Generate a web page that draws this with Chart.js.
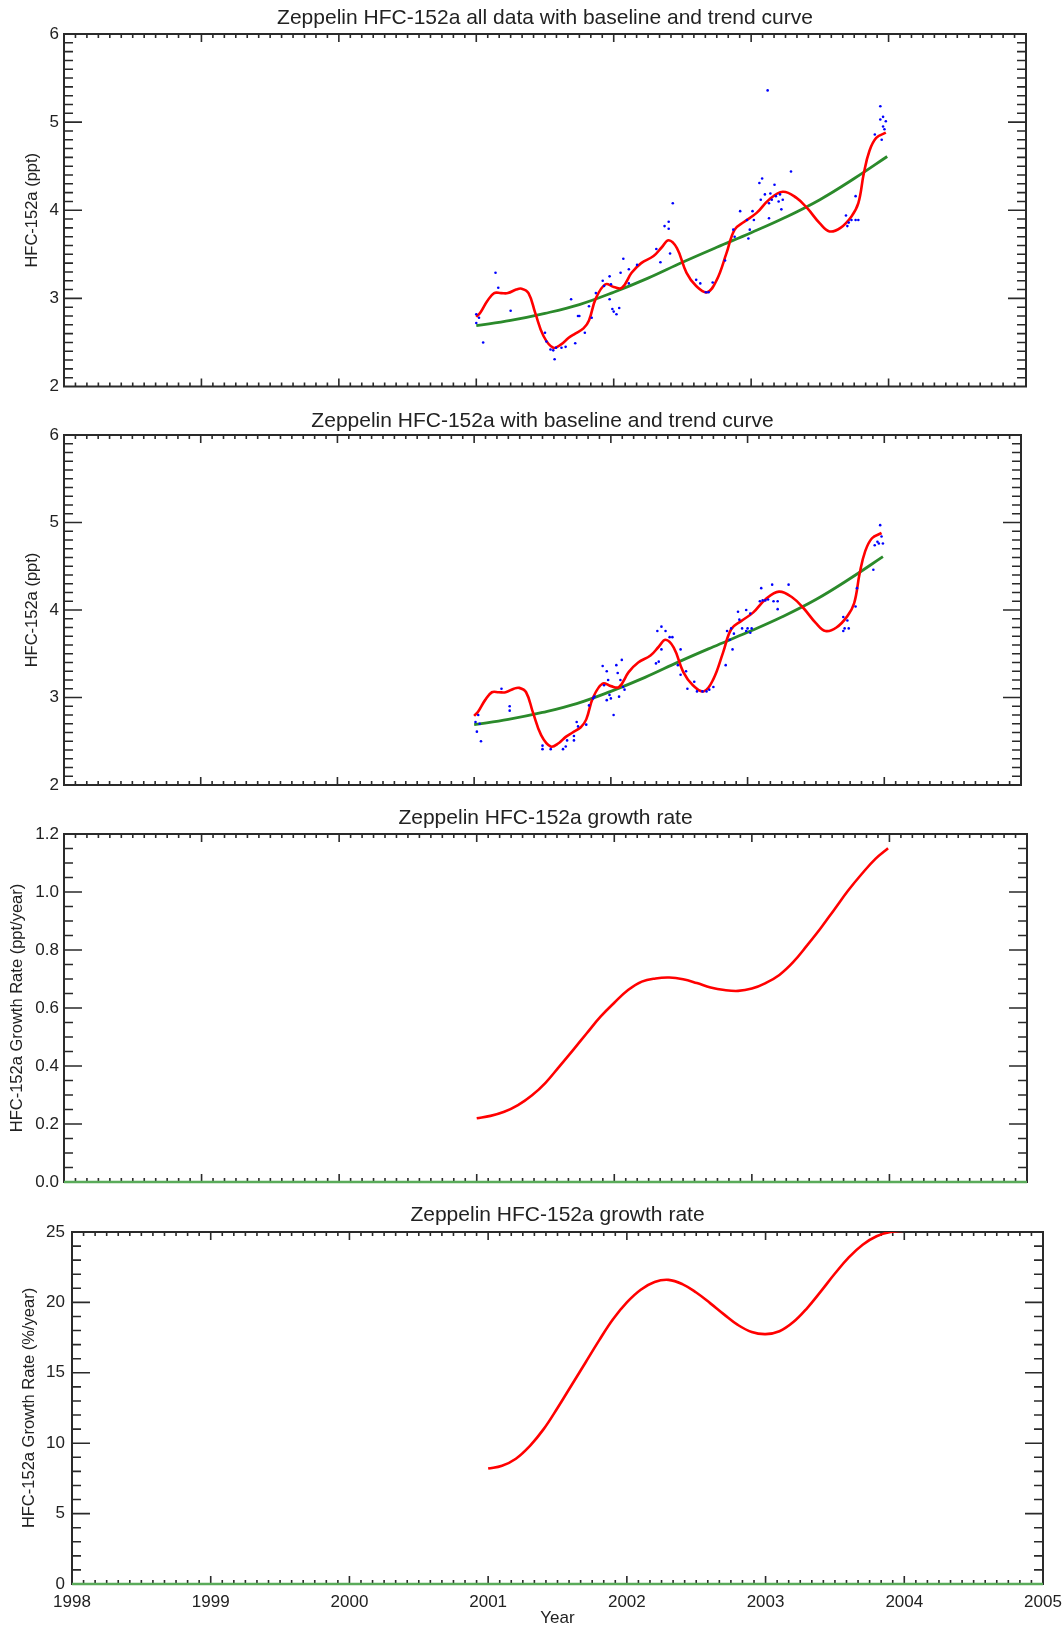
<!DOCTYPE html>
<html>
<head>
<meta charset="utf-8">
<script src="https://cdn.jsdelivr.net/npm/chart.js@4.4.1/dist/chart.umd.min.js"></script>
<style>
  html, body { margin: 0; padding: 0; background: #fff; overflow: hidden; width: 1063px; height: 1629px; }
  canvas { position: absolute; left: 0; }
</style>
</head>
<body>
<canvas id="p1" width="1090" height="400" style="top:0px"></canvas>
<canvas id="p2" width="1085" height="400" style="top:400px"></canvas>
<canvas id="p3" width="1091" height="400" style="top:800px"></canvas>
<canvas id="p4" width="1115" height="429" style="top:1200px"></canvas>
<script>
// x axis (decimal year)
const yearTicks = [1998, 1999, 2000, 2001, 2002, 2003, 2004, 2005];
const yearLabels = ['1998', '1999', '2000', '2001', '2002', '2003', '2004', '2005'];

// y ticks
const ppmTicks = [2, 3, 4, 5, 6];
const ppmLabels = ['2', '3', '4', '5', '6'];
const rateTicks = [0, 0.2, 0.4, 0.6, 0.8, 1.0, 1.2];
const rateLabels = ['0.0', '0.2', '0.4', '0.6', '0.8', '1.0', '1.2'];
const pctTicks = [0, 5, 10, 15, 20, 25];
const pctLabels = ['0', '5', '10', '15', '20', '25'];

// trend curve (green)
const trendYears = [2001.0, 2001.25, 2001.5, 2001.75, 2002.0, 2002.25, 2002.5, 2002.75, 2003.0, 2003.25, 2003.5, 2003.75, 2003.99];
const trendValues = [2.69, 2.75, 2.83, 2.93, 3.07, 3.23, 3.41, 3.58, 3.745, 3.92, 4.12, 4.36, 4.61];

// baseline fit (red)
const smoothYears = [2001.0, 2001.03, 2001.08, 2001.13, 2001.18, 2001.23, 2001.29, 2001.33, 2001.38, 2001.43,
  2001.49, 2001.56, 2001.62, 2001.67, 2001.72, 2001.78, 2001.82, 2001.87, 2001.94, 2002.0,
  2002.06, 2002.13, 2002.2, 2002.29, 2002.35, 2002.4, 2002.46, 2002.53, 2002.6, 2002.68,
  2002.75, 2002.82, 2002.88, 2002.95, 2003.04, 2003.13, 2003.23, 2003.33, 2003.41, 2003.5,
  2003.57, 2003.65, 2003.73, 2003.78, 2003.82, 2003.86, 2003.91, 2003.98];
const smoothValues = [2.79, 2.84, 2.97, 3.06, 3.06, 3.06, 3.10, 3.11, 3.06, 2.83,
  2.57, 2.44, 2.48, 2.55, 2.60, 2.66, 2.75, 3.00, 3.16, 3.13,
  3.12, 3.29, 3.40, 3.48, 3.58, 3.66, 3.57, 3.29, 3.14, 3.07,
  3.21, 3.51, 3.78, 3.87, 3.97, 4.12, 4.21, 4.14, 4.02, 3.85,
  3.76, 3.80, 3.93, 4.08, 4.42, 4.67, 4.82, 4.88];

// all flask data (blue)
const allYears = [2001.0, 2001.0, 2001.02, 2001.05, 2001.14, 2001.16, 2001.25, 2001.5, 2001.51, 2001.54,
  2001.56, 2001.57, 2001.58, 2001.62, 2001.65, 2001.69, 2001.72, 2001.74, 2001.75, 2001.79,
  2001.82, 2001.84, 2001.87, 2001.92, 2001.93, 2001.97, 2001.97, 2001.98, 2001.99, 2002.0,
  2002.02, 2002.04, 2002.05, 2002.07, 2002.11, 2002.11, 2002.17, 2002.31, 2002.34, 2002.37,
  2002.4, 2002.41, 2002.43, 2002.4, 2002.6, 2002.63, 2002.67, 2002.69, 2002.72, 2002.81,
  2002.87, 2002.88, 2002.92, 2002.97, 2002.98, 2002.99, 2003.01, 2003.02, 2003.06, 2003.07,
  2003.08, 2003.1, 2003.12, 2003.13, 2003.13, 2003.14, 2003.15, 2003.17, 2003.18, 2003.2,
  2003.21, 2003.22, 2003.23, 2003.29, 2003.69, 2003.7, 2003.71, 2003.73, 2003.76, 2003.78,
  2003.76, 2003.9, 2003.94, 2003.94, 2003.96, 2003.96, 2003.98, 2003.97, 2003.95];
const allValues = [2.72, 2.82, 2.78, 2.50, 3.29, 3.12, 2.86, 2.61, 2.51, 2.42,
  2.41, 2.31, 2.44, 2.44, 2.45, 2.99, 2.49, 2.80, 2.80, 2.61,
  2.91, 2.78, 3.06, 3.20, 3.14, 3.25, 2.99, 3.16, 2.88, 2.85,
  2.82, 2.89, 3.29, 3.45, 3.17, 3.33, 3.38, 3.56, 3.41, 3.82,
  3.87, 3.51, 4.08, 3.79, 3.21, 3.17, 3.07, 3.07, 3.18, 3.43,
  3.78, 3.70, 3.99, 3.89, 3.68, 3.78, 3.99, 3.89, 4.31, 4.12,
  4.36, 4.18, 5.36, 4.08, 3.91, 4.19, 4.12, 4.29, 4.16, 4.10,
  4.18, 4.01, 4.12, 4.44, 3.94, 3.82, 3.86, 3.89, 3.89, 3.89,
  4.16, 4.86, 5.18, 5.03, 5.06, 4.95, 5.01, 4.92, 4.80];

// selected baseline data (blue)
const selYears = [2001.01, 2001.02, 2001.03, 2001.04, 2001.05, 2001.2, 2001.26, 2001.26, 2001.5, 2001.5,
  2001.56, 2001.65, 2001.67, 2001.68, 2001.73, 2001.73, 2001.75, 2001.76, 2001.82, 2001.84,
  2001.87, 2001.88, 2001.94, 2001.95, 2001.97, 2001.97, 2001.98, 2001.99, 2002.0, 2002.02,
  2002.04, 2002.05, 2002.06, 2002.07, 2002.08, 2002.09, 2002.1, 2002.33, 2002.34, 2002.35,
  2002.37, 2002.37, 2002.4, 2002.43, 2002.45, 2002.49, 2002.51, 2002.51, 2002.55, 2002.56,
  2002.61, 2002.63, 2002.67, 2002.7, 2002.72, 2002.75, 2002.84, 2002.85, 2002.87, 2002.88,
  2002.89, 2002.9, 2002.93, 2002.94, 2002.96, 2002.99, 2002.99, 2003.0, 2003.02, 2003.02,
  2003.03, 2003.09, 2003.1, 2003.11, 2003.13, 2003.15, 2003.18, 2003.19, 2003.22, 2003.22,
  2003.3, 2003.7, 2003.7, 2003.71, 2003.73, 2003.74, 2003.79, 2003.8, 2003.92, 2003.93,
  2003.95, 2003.96, 2003.97, 2003.98, 2003.99];
const selValues = [2.72, 2.61, 2.80, 2.70, 2.50, 3.10, 2.90, 2.85, 2.45, 2.41,
  2.41, 2.41, 2.44, 2.51, 2.51, 2.56, 2.72, 2.67, 2.69, 2.91,
  2.99, 3.01, 3.36, 3.14, 2.97, 3.30, 3.20, 3.03, 2.99, 2.80,
  3.37, 3.28, 3.01, 3.20, 3.43, 3.12, 3.09, 3.39, 3.76, 3.41,
  3.55, 3.81, 3.76, 3.69, 3.69, 3.37, 3.55, 3.26, 3.30, 3.10,
  3.18, 3.07, 3.07, 3.07, 3.09, 3.12, 3.37, 3.76, 3.66, 3.79,
  3.55, 3.73, 3.98, 3.89, 3.79, 4.00, 3.76, 3.79, 3.96, 3.74,
  3.79, 4.10, 4.25, 4.11, 4.11, 4.12, 4.29, 4.10, 4.10, 4.01,
  4.29, 3.92, 3.76, 3.79, 3.88, 3.79, 4.04, 4.25, 4.46, 4.74,
  4.78, 4.76, 4.97, 4.84, 4.76];

// growth rate (ppt/year)
const rateYears = [2001.0, 2001.1, 2001.2, 2001.3, 2001.4, 2001.5, 2001.6, 2001.7, 2001.8, 2001.9,
  2002.0, 2002.1, 2002.2, 2002.3, 2002.4, 2002.5, 2002.6, 2002.7, 2002.8, 2002.9,
  2003.0, 2003.1, 2003.2, 2003.3, 2003.4, 2003.5, 2003.6, 2003.7, 2003.8, 2003.9, 2003.99];
const rateValues = [0.22, 0.228, 0.242, 0.265, 0.298, 0.342, 0.398, 0.455, 0.513, 0.57,
  0.618, 0.662, 0.691, 0.702, 0.705, 0.699, 0.686, 0.671, 0.662, 0.659,
  0.667, 0.686, 0.714, 0.758, 0.815, 0.875, 0.94, 1.005, 1.063, 1.115, 1.151];

// growth rate (%/year)
const pctYears = [2001.0, 2001.1, 2001.2, 2001.3, 2001.4, 2001.5, 2001.6, 2001.7, 2001.8, 2001.9,
  2002.0, 2002.1, 2002.2, 2002.3, 2002.4, 2002.5, 2002.6, 2002.7, 2002.8, 2002.9,
  2003.0, 2003.1, 2003.2, 2003.3, 2003.4, 2003.5, 2003.6, 2003.7, 2003.8, 2003.9, 2004.0];
const pctValues = [8.2, 8.4, 8.9, 9.8, 11.0, 12.5, 14.1, 15.7, 17.3, 18.8,
  20.0, 20.9, 21.45, 21.6, 21.3, 20.7, 19.95, 19.15, 18.4, 17.9,
  17.75, 17.95, 18.6, 19.6, 20.8, 22.05, 23.2, 24.1, 24.7, 25.0, 25.1];

const FONT = '"Liberation Sans", Arial, Helvetica, sans-serif';
Chart.defaults.font.family = FONT;
Chart.defaults.color = '#222';

const pts = (xs, ys) => xs.map((x, i) => ({x: x, y: ys[i]}));

// IDL style box with inward major/minor ticks on all four sides
const frame = {
    id: 'frame',
    beforeDatasetsDraw(chart, args, opts) {
        const {ctx, chartArea: a, scales: {x, y}} = chart;
        ctx.save();
        ctx.strokeStyle = '#2a2a2a';
        ctx.lineWidth = 2;
        ctx.strokeRect(a.left, a.top, a.right - a.left, a.bottom - a.top);
        ctx.lineWidth = 1.6;
        ctx.beginPath();
        const nx = Math.round((x.max - x.min) * 12);
        for (let i = 1; i < nx; i++) {
            const px = x.getPixelForValue(x.min + i / 12);
            const len = i % 12 === 0 ? 8 : 4;
            ctx.moveTo(px, a.bottom); ctx.lineTo(px, a.bottom - len);
            ctx.moveTo(px, a.top); ctx.lineTo(px, a.top + len);
        }
        const ny = Math.round((y.max - y.min) / opts.yMinor);
        for (let i = 1; i < ny; i++) {
            const py = y.getPixelForValue(y.min + i * opts.yMinor);
            const len = i % opts.yPerMajor === 0 ? 18 : 9;
            ctx.moveTo(a.left, py); ctx.lineTo(a.left + len, py);
            ctx.moveTo(a.right, py); ctx.lineTo(a.right - len, py);
        }
        ctx.stroke();
        ctx.restore();
    }
};

function panel(id, cfg) {
    return new Chart(document.getElementById(id), {
        type: 'scatter',
        data: {datasets: cfg.datasets},
        options: {
            responsive: false,
            animation: false,
            layout: {padding: 0},
            plugins: {
                legend: {display: false},
                tooltip: {enabled: false},
                title: {
                    display: true,
                    text: cfg.title,
                    color: '#222',
                    font: {size: 21, weight: 'normal', lineHeight: 1},
                    padding: cfg.titlePad,
                },
                frame: {yMinor: cfg.yMinor, yPerMajor: cfg.yPerMajor},
            },
            scales: {
                x: {
                    type: 'linear',
                    min: 1998,
                    max: 2005,
                    grid: {display: false, drawTicks: false},
                    border: {display: false},
                    afterBuildTicks: s => { s.ticks = yearTicks.map(v => ({value: v})); },
                    ticks: {
                        display: cfg.showX,
                        padding: 9.5,
                        color: '#222',
                        maxRotation: 0,
                        autoSkip: false,
                        font: {size: 17, lineHeight: 1},
                        callback: (v, i) => yearLabels[i],
                    },
                    title: {
                        display: cfg.showX,
                        text: 'Year',
                        color: '#222',
                        font: {size: 17, lineHeight: 1},
                        padding: {top: 0, bottom: 2.5},
                    },
                    afterFit: s => { s.height = cfg.bottom; },
                },
                y: {
                    type: 'linear',
                    min: cfg.yTicks[0],
                    max: cfg.yTicks[cfg.yTicks.length - 1],
                    grid: {display: false, drawTicks: false},
                    border: {display: false},
                    afterBuildTicks: s => { s.ticks = cfg.yTicks.map(v => ({value: v})); },
                    ticks: {
                        padding: cfg.yPad,
                        color: '#222',
                        autoSkip: false,
                        font: {size: 17, lineHeight: 1},
                        callback: (v, i) => cfg.yLabels[i],
                    },
                    title: {
                        display: true,
                        text: cfg.yTitle,
                        color: '#222',
                        font: {size: 16.5, lineHeight: 1},
                        padding: {top: cfg.yTitleTop, bottom: 0},
                    },
                    afterFit: s => { s.width = cfg.left; },
                },
                // empty right-hand axis that reserves the margin, so the title stays centred on the box
                yRight: {
                    type: 'linear',
                    position: 'right',
                    grid: {display: false, drawTicks: false},
                    border: {display: false},
                    ticks: {display: false},
                    afterFit: s => { s.width = cfg.right; },
                },
            },
        },
        plugins: [frame],
    });
}

const dots = (xs, ys) => ({
    data: pts(xs, ys),
    pointRadius: 1.3,
    pointBorderWidth: 0,
    pointBackgroundColor: '#0000ff',
    showLine: false,
});
const curve = (xs, ys, color, width) => ({
    data: pts(xs, ys),
    showLine: true,
    borderColor: color,
    borderWidth: width,
    pointRadius: 0,
    tension: 0.4,
});
const zeroLine = () => ({
    data: pts([yearTicks[0], yearTicks[yearTicks.length - 1]], [0, 0]),
    showLine: true,
    borderColor: '#5aab5a',
    borderWidth: 2.5,
    pointRadius: 0,
    clip: false,
});

panel('p1', {
    title: 'Zeppelin HFC-152a all data with baseline and trend curve',
    titlePad: {top: 7.5, bottom: 5.5},
    right: 64, left: 64, bottom: 13, showX: false,
    yTicks: ppmTicks, yLabels: ppmLabels, yMinor: 0.1, yPerMajor: 10, yPad: 5,
    yTitle: 'HFC-152a (ppt)', yTitleTop: 24,
    datasets: [
        dots(allYears, allValues),
        curve(smoothYears, smoothValues, '#ff0000', 2.6),
        curve(trendYears, trendValues, '#2b8a2b', 2.8),
    ],
});

panel('p2', {
    title: 'Zeppelin HFC-152a with baseline and trend curve',
    titlePad: {top: 10.5, bottom: 3.5},
    right: 64, left: 64, bottom: 15, showX: false,
    yTicks: ppmTicks, yLabels: ppmLabels, yMinor: 0.1, yPerMajor: 10, yPad: 5,
    yTitle: 'HFC-152a (ppt)', yTitleTop: 24,
    datasets: [
        dots(selYears, selValues),
        curve(smoothYears, smoothValues, '#ff0000', 2.6),
        curve(trendYears, trendValues, '#2b8a2b', 2.8),
    ],
});

panel('p3', {
    title: 'Zeppelin HFC-152a growth rate',
    titlePad: {top: 7.5, bottom: 5.5},
    right: 64, left: 64, bottom: 18, showX: false,
    yTicks: rateTicks, yLabels: rateLabels, yMinor: 0.05, yPerMajor: 4, yPad: 5,
    yTitle: 'HFC-152a Growth Rate (ppt/year)', yTitleTop: 9.5,
    datasets: [
        curve(rateYears, rateValues, '#ff0000', 2.6),
        zeroLine(),
    ],
});

panel('p4', {
    title: 'Zeppelin HFC-152a growth rate',
    titlePad: {top: 4.5, bottom: 6.5},
    right: 72, left: 72, bottom: 45, showX: true,
    yTicks: pctTicks, yLabels: pctLabels, yMinor: 1, yPerMajor: 5, yPad: 7,
    yTitle: 'HFC-152a Growth Rate (%/year)', yTitleTop: 21,
    datasets: [
        curve(pctYears, pctValues, '#ff0000', 2.6),
        zeroLine(),
    ],
});
</script>
</body>
</html>
